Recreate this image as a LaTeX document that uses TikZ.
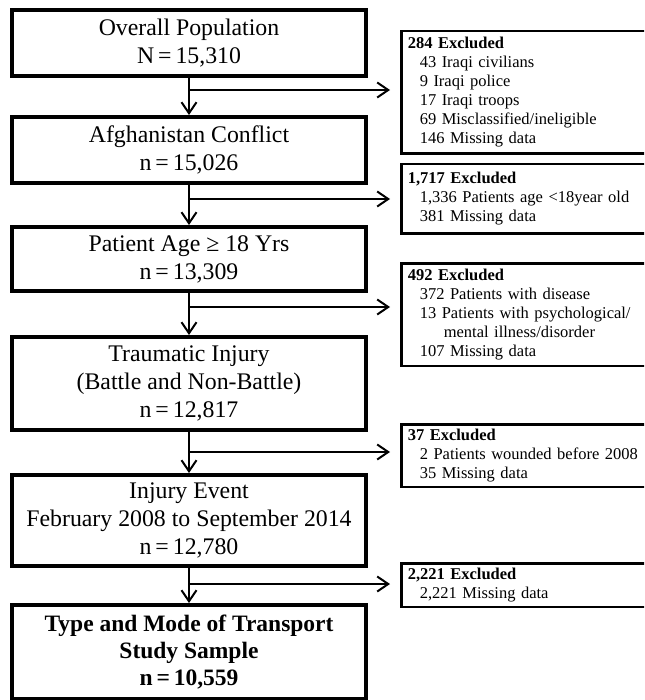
\documentclass[tikz,border=0pt]{standalone}
\usepackage{fontspec}
\setmainfont{Liberation Serif}
\usetikzlibrary{arrows.meta}
\begin{document}
\begin{tikzpicture}[x=1pt,y=-1pt,
  stagebox/.style={draw=black, line width=4pt, minimum width=354pt, align=center,
    inner sep=0pt, fill=white, font=\fontsize{23.8}{28}\selectfont},
  exclbox/.style={draw=black, line width=2.5pt, anchor=west, text width=250pt,
    inner xsep=6.5pt, inner ysep=0pt, align=left, fill=white,
    font=\fontsize{16.5}{19}\selectfont},
  flow/.style={line width=2pt, -{Straight Barb[length=11pt,width=15pt,line width=2pt]}}
]
\useasboundingbox (0,0) rectangle (644,700);
\clip (0,0) rectangle (644,700);
\fill[white] (0,0) rectangle (644,700);

% stages of the flow
\node[stagebox, minimum height=66pt] (s1) at (189,43) {Overall Population\\N\,=\,15,310};
\node[stagebox, minimum height=66pt] (s2) at (189,150) {Afghanistan Conflict\\n\,=\,15,026};
\node[stagebox, minimum height=64pt] (s3) at (189,259) {Patient Age ≥ 18 Yrs\\n\,=\,13,309};
\node[stagebox, minimum height=93pt] (s4) at (189,383.5) {Traumatic Injury\\(Battle and Non-Battle)\\n\,=\,12,817};
\node[stagebox, minimum height=91pt] (s5) at (189,520.5) {Injury Event\\February 2008 to September 2014\\n\,=\,12,780};
\node[stagebox, minimum height=94pt, font=\fontsize{23.5}{27}\selectfont\bfseries] (s6) at (189,652)
  {Type and Mode of Transport\\Study Sample\\n\,=\,10,559};

% exclusion boxes
\node[exclbox, minimum height=122.5pt] (e1) at (400,92.5) {\textbf{284 Excluded}\\
  \hspace*{12pt}43 Iraqi civilians\\
  \hspace*{12pt}9 Iraqi police\\
  \hspace*{12pt}17 Iraqi troops\\
  \hspace*{12pt}69 Misclassified/ineligible\\
  \hspace*{12pt}146 Missing data};
\node[exclbox, minimum height=69.5pt] (e2) at (400,199) {\textbf{1,717 Excluded}\\
  \hspace*{12pt}1,336 Patients age <18year old\\
  \hspace*{12pt}381 Missing data};
\node[exclbox, minimum height=102.5pt] (e3) at (400,314.5) {\textbf{492 Excluded}\\
  \hspace*{12pt}372 Patients with disease\\
  \hspace*{12pt}13 Patients with psychological/\\
  \hspace*{36pt}mental illness/disorder\\
  \hspace*{12pt}107 Missing data};
\node[exclbox, minimum height=62.5pt] (e4) at (400,455.5) {\textbf{37 Excluded}\\
  \hspace*{12pt}2 Patients wounded before 2008\\
  \hspace*{12pt}35 Missing data};
\node[exclbox, minimum height=43.5pt] (e5) at (400,585) {\textbf{2,221 Excluded}\\
  \hspace*{12pt}2,221 Missing data};

% branch points and arrow tip line
\coordinate (tip) at (390,0);
\coordinate (b1) at (189,90);
\coordinate (b2) at (189,199);
\coordinate (b3) at (189,307);
\coordinate (b4) at (189,452);
\coordinate (b5) at (189,584);

% main flow
\draw[flow] (s1.south) -- (s2.north);
\draw[flow] (s2.south) -- (s3.north);
\draw[flow] (s3.south) -- (s4.north);
\draw[flow] (s4.south) -- (s5.north);
\draw[flow] (s5.south) -- (s6.north);

% exclusions
\draw[flow] (b1) -- (b1 -| tip);
\draw[flow] (b2) -- (b2 -| tip);
\draw[flow] (b3) -- (b3 -| tip);
\draw[flow] (b4) -- (b4 -| tip);
\draw[flow] (b5) -- (b5 -| tip);
\end{tikzpicture}
\end{document}
